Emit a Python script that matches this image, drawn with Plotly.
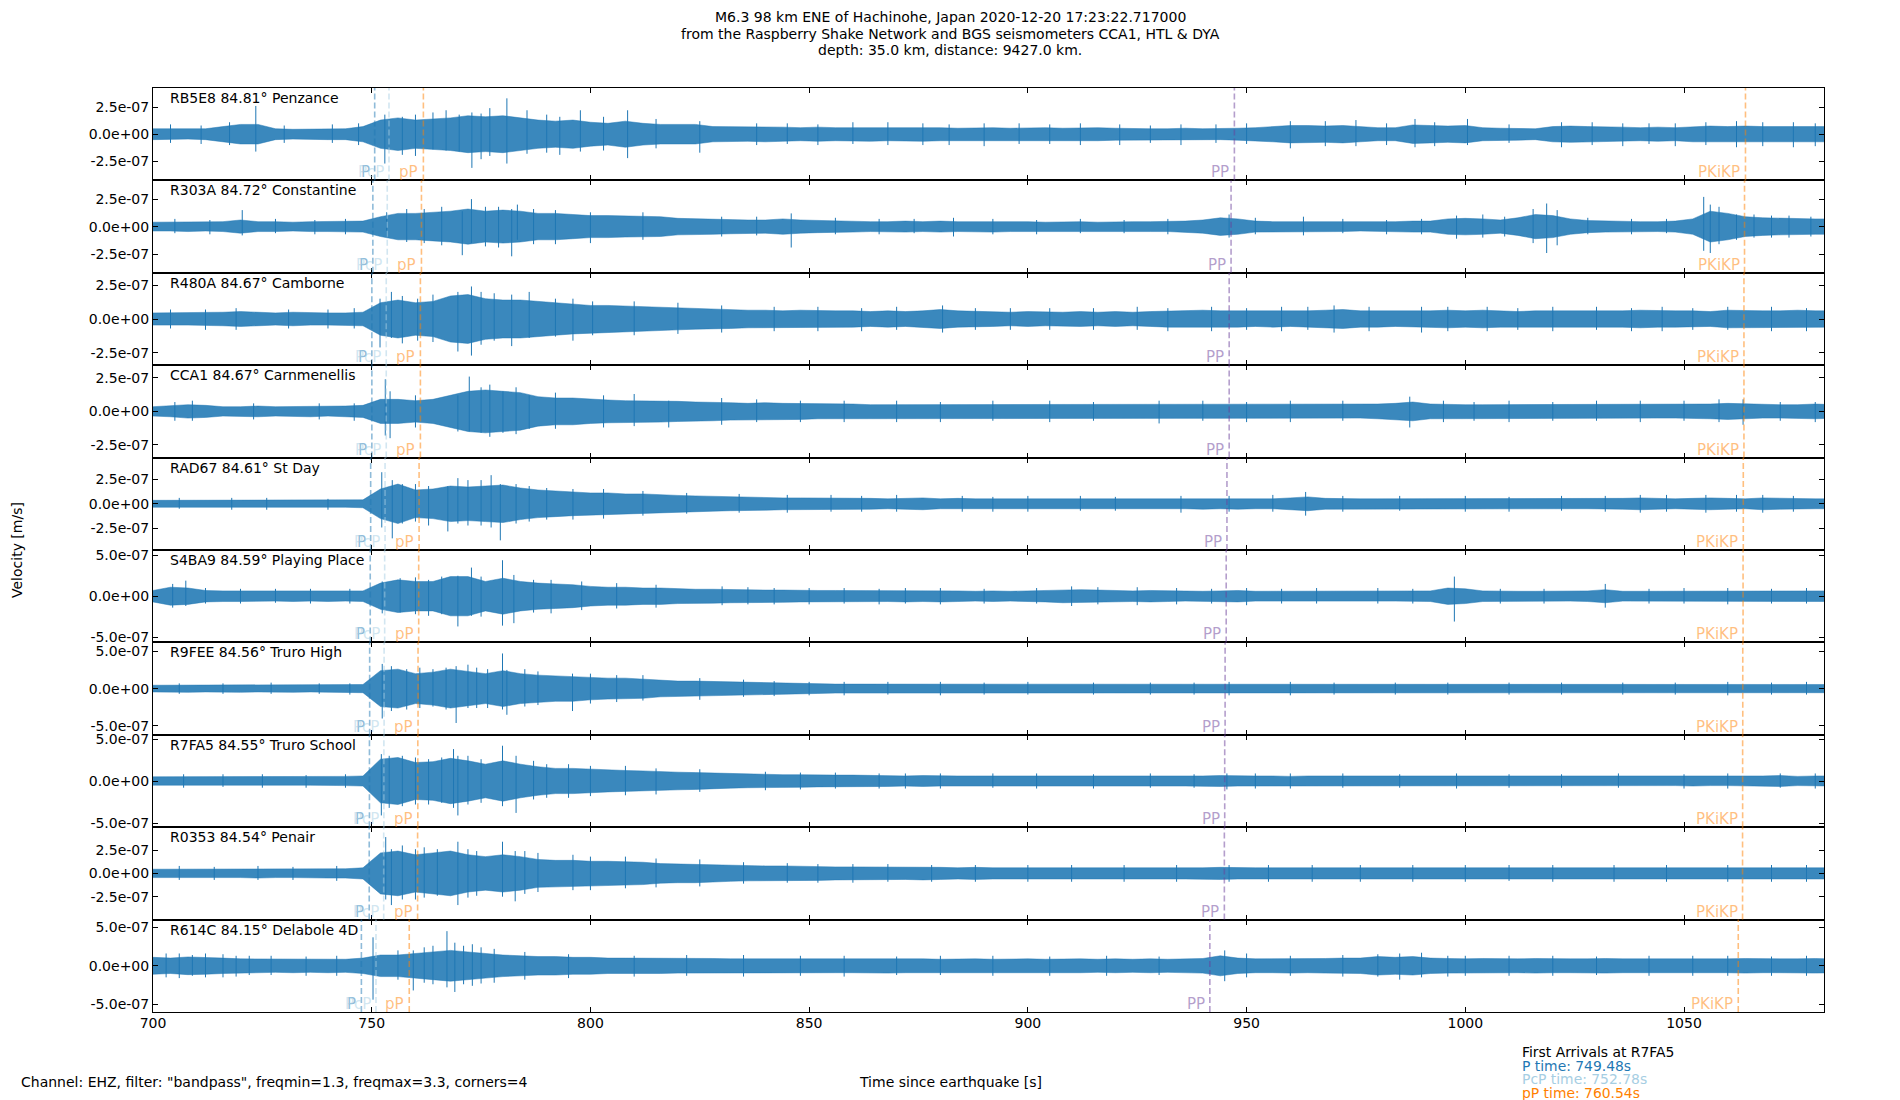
import plotly.graph_objects as go
from plotly.subplots import make_subplots

# Station metadata (top panel to bottom panel)
stations = ["RB5E8", "R303A", "R480A", "CCA1", "RAD67", "S4BA9", "R9FEE", "R7FA5", "R0353", "R614C"]
distances = [84.81, 84.72, 84.67, 84.67, 84.61, 84.59, 84.56, 84.55, 84.54, 84.15]
places = ["Penzance", "Constantine", "Camborne", "Carnmenellis", "St Day", "Playing Place",
          "Truro High", "Truro School", "Penair", "Delabole 4D"]

# y-axis half range and tick step per panel, units of 1e-7 m/s
y_half = [4.25, 4.2, 3.41, 3.45, 4.68, 5.65, 6.18, 5.5, 4.96, 6.0]
y_step = [2.5, 2.5, 2.5, 2.5, 2.5, 5.0, 5.0, 5.0, 2.5, 5.0]

# phase arrival times [s] per station
p_times = [750.68, 750.26, 750.03, 750.03, 749.76, 749.66, 749.53, 749.48, 749.43, 747.64]
pcp_times = [753.95, 753.55, 753.32, 753.32, 753.05, 752.96, 752.83, 752.78, 752.74, 750.98]
pp_depth_times = [761.81, 761.37, 761.13, 761.13, 760.83, 760.74, 760.59, 760.54, 760.49, 758.58]
pp_times = [947.21, 946.45, 946.02, 946.02, 945.51, 945.34, 945.09, 945.0, 944.92, 941.6]
pkikp_times = [1064.05, 1063.83, 1063.7, 1063.7, 1063.55, 1063.5, 1063.43, 1063.4, 1063.38, 1062.4]

# envelope sample times [s] (every 4 s)
env_times = list(range(700, 1085, 4))

# waveform envelope (half amplitude, 1e-7 m/s)
amp_rb5e8 = [0.5, 0.5, 0.45, 0.5, 0.7, 0.9, 0.9, 0.5, 0.45, 0.45,
             0.5, 0.5, 0.7, 1.3, 1.5, 1.3, 1.4, 1.5, 1.7, 1.6,
             1.7, 1.5, 1.3, 1.2, 1.3, 1.1, 1.0, 1.2, 1.0, 0.9,
             0.9, 0.9, 0.7, 0.7, 0.65, 0.7, 0.65, 0.6, 0.65, 0.6,
             0.6, 0.65, 0.6, 0.6, 0.65, 0.6, 0.55, 0.6, 0.6, 0.55,
             0.6, 0.6, 0.55, 0.6, 0.6, 0.55, 0.5, 0.5, 0.5, 0.55,
             0.5, 0.5, 0.55, 0.6, 0.7, 0.8, 0.8, 0.75, 0.8, 0.7,
             0.6, 0.6, 0.85, 0.8, 0.75, 0.8, 0.6, 0.55, 0.55, 0.5,
             0.7, 0.75, 0.7, 0.7, 0.65, 0.6, 0.65, 0.6, 0.7, 0.75,
             0.7, 0.75, 0.7, 0.7, 0.75, 0.7, 0.7]
amp_r303a = [0.4, 0.4, 0.45, 0.4, 0.45, 0.6, 0.45, 0.45, 0.4, 0.45,
             0.45, 0.45, 0.5, 0.9, 1.2, 1.2, 1.3, 1.4, 1.6, 1.4,
             1.5, 1.4, 1.2, 1.2, 1.1, 1.0, 1.0, 0.95, 0.9, 0.9,
             0.75, 0.7, 0.7, 0.65, 0.6, 0.6, 0.7, 0.6, 0.55, 0.5,
             0.5, 0.45, 0.45, 0.5, 0.45, 0.5, 0.45, 0.45, 0.5, 0.45,
             0.45, 0.4, 0.45, 0.45, 0.4, 0.45, 0.45, 0.45, 0.45, 0.5,
             0.6, 0.8, 0.7, 0.5, 0.45, 0.45, 0.45, 0.45, 0.45, 0.4,
             0.45, 0.45, 0.5, 0.5, 0.7, 0.75, 0.7, 0.6, 0.8, 1.1,
             1.0, 0.7, 0.55, 0.5, 0.5, 0.45, 0.45, 0.5, 0.7, 1.4,
             1.2, 0.9, 0.8, 0.75, 0.7, 0.7, 0.7]
amp_r480a = [0.45, 0.45, 0.45, 0.45, 0.5, 0.55, 0.5, 0.45, 0.5, 0.45,
             0.45, 0.45, 0.5, 1.2, 1.4, 1.2, 1.3, 1.7, 1.8, 1.5,
             1.4, 1.4, 1.3, 1.2, 1.1, 1.0, 1.0, 0.95, 0.9, 0.85,
             0.8, 0.75, 0.7, 0.7, 0.65, 0.65, 0.6, 0.65, 0.6, 0.6,
             0.6, 0.55, 0.6, 0.55, 0.6, 0.7, 0.6, 0.55, 0.55, 0.5,
             0.55, 0.5, 0.5, 0.55, 0.5, 0.55, 0.5, 0.55, 0.6, 0.6,
             0.65, 0.6, 0.6, 0.55, 0.6, 0.55, 0.6, 0.65, 0.7, 0.6,
             0.6, 0.55, 0.6, 0.6, 0.65, 0.6, 0.65, 0.6, 0.55, 0.6,
             0.6, 0.55, 0.6, 0.6, 0.6, 0.65, 0.6, 0.6, 0.6, 0.55,
             0.65, 0.6, 0.6, 0.6, 0.65, 0.6, 0.6]
amp_cca1 = [0.35, 0.4, 0.5, 0.45, 0.35, 0.35, 0.4, 0.35, 0.35, 0.4,
            0.35, 0.4, 0.45, 0.9, 0.9, 0.8, 0.9, 1.2, 1.5, 1.6,
            1.5, 1.4, 1.1, 1.0, 1.0, 0.9, 0.85, 0.8, 0.8, 0.8,
            0.75, 0.7, 0.7, 0.65, 0.6, 0.65, 0.6, 0.6, 0.55, 0.55,
            0.55, 0.5, 0.5, 0.55, 0.5, 0.55, 0.5, 0.5, 0.5, 0.5,
            0.55, 0.5, 0.5, 0.5, 0.5, 0.55, 0.5, 0.5, 0.55, 0.5,
            0.55, 0.5, 0.5, 0.5, 0.5, 0.5, 0.55, 0.5, 0.5, 0.5,
            0.55, 0.6, 0.7, 0.55, 0.5, 0.5, 0.5, 0.5, 0.5, 0.5,
            0.5, 0.5, 0.5, 0.5, 0.5, 0.5, 0.5, 0.5, 0.5, 0.55,
            0.6, 0.55, 0.5, 0.5, 0.5, 0.55, 0.5]
amp_rad67 = [0.35, 0.35, 0.35, 0.35, 0.35, 0.35, 0.4, 0.35, 0.35, 0.35,
             0.35, 0.35, 0.4, 1.5, 2.0, 1.4, 1.5, 1.8, 1.7, 1.8,
             1.9, 1.6, 1.4, 1.3, 1.2, 1.1, 1.1, 1.0, 1.0, 0.9,
             0.85, 0.8, 0.75, 0.7, 0.65, 0.65, 0.6, 0.6, 0.6, 0.6,
             0.55, 0.55, 0.5, 0.55, 0.6, 0.5, 0.55, 0.5, 0.5, 0.55,
             0.5, 0.5, 0.5, 0.5, 0.55, 0.5, 0.5, 0.5, 0.5, 0.5,
             0.55, 0.5, 0.55, 0.5, 0.5, 0.6, 0.7, 0.55, 0.5, 0.5,
             0.5, 0.5, 0.5, 0.5, 0.55, 0.5, 0.5, 0.5, 0.5, 0.5,
             0.5, 0.5, 0.5, 0.5, 0.55, 0.6, 0.55, 0.5, 0.55, 0.6,
             0.55, 0.5, 0.6, 0.55, 0.5, 0.5, 0.5]
amp_s4ba9 = [0.7, 1.1, 1.0, 0.7, 0.65, 0.65, 0.65, 0.6, 0.65, 0.6,
             0.65, 0.6, 0.65, 1.6, 2.0, 1.8, 1.8, 2.4, 2.4, 1.8,
             2.2, 1.8, 1.6, 1.5, 1.4, 1.2, 1.1, 1.1, 1.0, 1.0,
             0.9, 0.85, 0.85, 0.8, 0.8, 0.75, 0.75, 0.7, 0.7, 0.7,
             0.7, 0.65, 0.65, 0.7, 0.65, 0.7, 0.65, 0.6, 0.65, 0.6,
             0.65, 0.7, 0.8, 0.8, 0.75, 0.7, 0.65, 0.7, 0.65, 0.6,
             0.6, 0.65, 0.7, 0.6, 0.6, 0.6, 0.6, 0.65, 0.6, 0.6,
             0.6, 0.6, 0.6, 0.65, 1.0, 0.9, 0.65, 0.6, 0.6, 0.6,
             0.6, 0.6, 0.65, 0.8, 0.6, 0.6, 0.6, 0.6, 0.6, 0.6,
             0.6, 0.65, 0.6, 0.6, 0.65, 0.65, 0.65]
amp_r9fee = [0.45, 0.45, 0.5, 0.45, 0.45, 0.5, 0.45, 0.45, 0.5, 0.45,
             0.45, 0.5, 0.55, 2.4, 2.6, 2.0, 2.2, 2.6, 2.3, 2.0,
             2.4, 2.0, 1.8, 1.7, 1.7, 1.5, 1.4, 1.4, 1.3, 1.1,
             1.0, 1.0, 0.95, 0.85, 0.8, 0.75, 0.7, 0.7, 0.65, 0.6,
             0.6, 0.6, 0.55, 0.55, 0.6, 0.55, 0.55, 0.55, 0.6, 0.55,
             0.55, 0.55, 0.6, 0.55, 0.55, 0.55, 0.5, 0.55, 0.55, 0.55,
             0.55, 0.6, 0.55, 0.55, 0.5, 0.55, 0.55, 0.5, 0.55, 0.55,
             0.55, 0.5, 0.55, 0.55, 0.5, 0.55, 0.5, 0.5, 0.55, 0.5,
             0.5, 0.55, 0.5, 0.55, 0.5, 0.5, 0.55, 0.5, 0.5, 0.55,
             0.5, 0.55, 0.6, 0.55, 0.5, 0.55, 0.55]
amp_r7fa5 = [0.5, 0.5, 0.5, 0.5, 0.55, 0.5, 0.5, 0.5, 0.5, 0.5,
             0.5, 0.55, 0.6, 2.6, 2.8, 2.2, 2.3, 2.7, 2.4, 2.0,
             2.4, 2.0, 1.7, 1.5, 1.5, 1.4, 1.3, 1.25, 1.2, 1.1,
             1.05, 1.0, 0.95, 0.85, 0.8, 0.8, 0.75, 0.75, 0.7, 0.7,
             0.7, 0.65, 0.65, 0.6, 0.65, 0.6, 0.6, 0.6, 0.6, 0.6,
             0.6, 0.6, 0.55, 0.6, 0.6, 0.6, 0.55, 0.6, 0.6, 0.6,
             0.6, 0.65, 0.6, 0.6, 0.6, 0.55, 0.6, 0.6, 0.6, 0.55,
             0.55, 0.6, 0.6, 0.55, 0.6, 0.55, 0.55, 0.6, 0.55, 0.55,
             0.55, 0.6, 0.55, 0.55, 0.6, 0.55, 0.55, 0.55, 0.6, 0.55,
             0.55, 0.6, 0.6, 0.65, 0.55, 0.6, 0.6]
amp_r0353 = [0.45, 0.45, 0.5, 0.45, 0.45, 0.45, 0.5, 0.45, 0.45, 0.45,
             0.5, 0.5, 0.6, 2.2, 2.4, 2.0, 2.2, 2.4, 2.0, 1.8,
             2.0, 1.8, 1.5, 1.4, 1.4, 1.3, 1.3, 1.25, 1.2, 1.05,
             1.0, 1.0, 0.95, 0.85, 0.8, 0.8, 0.8, 0.75, 0.75, 0.7,
             0.7, 0.7, 0.65, 0.65, 0.7, 0.65, 0.6, 0.65, 0.6, 0.6,
             0.6, 0.6, 0.6, 0.6, 0.55, 0.6, 0.6, 0.6, 0.6, 0.6,
             0.6, 0.65, 0.6, 0.6, 0.6, 0.6, 0.6, 0.6, 0.55, 0.6,
             0.6, 0.6, 0.55, 0.6, 0.6, 0.6, 0.6, 0.55, 0.6, 0.6,
             0.6, 0.6, 0.6, 0.55, 0.6, 0.6, 0.6, 0.6, 0.6, 0.6,
             0.6, 0.6, 0.6, 0.6, 0.55, 0.6, 0.6]
amp_r614c = [1.1, 1.0, 1.15, 1.1, 1.0, 0.9, 0.9, 0.85, 0.9, 0.85,
             0.9, 0.85, 1.0, 1.4, 1.4, 1.6, 1.8, 2.0, 1.8, 1.6,
             1.4, 1.3, 1.2, 1.2, 1.1, 1.1, 1.0, 1.0, 1.0, 1.0,
             0.95, 0.95, 0.95, 0.9, 0.9, 0.95, 0.95, 0.9, 0.9, 0.9,
             0.9, 0.9, 0.95, 0.9, 0.9, 0.85, 0.9, 0.9, 0.85, 0.9,
             0.9, 0.85, 0.9, 0.9, 0.85, 0.9, 0.85, 0.9, 0.85, 0.9,
             0.95, 1.3, 1.0, 0.9, 0.9, 0.95, 0.9, 0.95, 1.0, 1.0,
             1.2, 1.1, 1.2, 1.0, 0.95, 0.9, 0.95, 0.9, 0.9, 0.95,
             0.9, 0.9, 0.9, 0.95, 0.9, 0.9, 0.9, 0.85, 0.9, 0.9,
             0.9, 0.95, 0.9, 0.9, 0.9, 0.95, 0.9]

# individual swings poking out of the band (time [s], max, min in 1e-7 m/s)
peaks_rb5e8 = [(704.0, 0.9, -0.8), (711.0, 0.8, -0.9), (717.5, 1.1, -1.0), (723.5, 2.6, -1.6),
               (730.0, 0.8, -0.8), (741.0, 0.9, -0.8), (747.0, 1.0, -1.0),
               (753.0, 1.8, -2.7), (757.0, 1.6, -1.9), (760.0, 1.8, -2.0),
               (764.0, 2.0, -1.4), (767.0, 2.2, -1.5), (770.0, 1.8, -1.6), (772.9, 2.0, -3.1),
               (775.0, 1.9, -2.3), (777.0, 2.4, -2.0), (780.9, 3.3, -2.7), (785.5, 2.2, -1.8),
               (790.0, 1.8, -1.7), (793.0, 1.6, -1.9), (797.7, 2.2, -1.6), (803.0, 1.6, -1.5),
               (808.5, 2.2, -2.2), (815.0, 1.4, -1.3), (825.0, 1.2, -1.7), (838.0, 1.0, -1.0),
               (845.0, 1.0, -0.9), (852.0, 0.9, -1.0), (860.0, 1.1, -0.9), (868.0, 1.1, -1.0),
               (876.0, 1.0, -1.0), (882.0, 0.9, -1.0), (890.0, 1.0, -1.1), (898.0, 1.0, -0.9),
               (905.0, 0.9, -0.9), (912.0, 1.0, -1.0), (921.0, 0.9, -1.0), (928.0, 0.8, -0.8),
               (935.0, 0.9, -1.0), (943.0, 0.9, -0.8), (950.0, 1.0, -0.9),
               (960.0, 1.2, -1.3), (968.0, 1.2, -1.1), (975.0, 1.3, -1.1), (982.0, 1.0, -1.0),
               (988.5, 1.4, -1.2), (993.0, 1.1, -1.1), (1000.5, 1.4, -1.0), (1010.0, 0.9, -0.8),
               (1022.0, 1.1, -1.2), (1029.0, 1.1, -1.0), (1036.0, 1.0, -1.1), (1042.0, 1.0, -0.9),
               (1048.0, 1.0, -1.1), (1055.0, 1.1, -1.0), (1062.0, 1.2, -1.2), (1068.0, 1.1, -1.1),
               (1075.0, 1.1, -1.2), (1080.0, 1.0, -1.1)]
peaks_r303a = [(705.0, 0.7, -0.6), (713.0, 0.6, -0.7), (720.4, 1.5, -0.8), (728.0, 0.7, -0.6),
               (737.0, 0.6, -0.7), (744.0, 0.7, -0.7),
               (753.4, 1.3, -0.9), (758.0, 1.6, -1.4), (762.0, 1.6, -1.5),
               (766.0, 1.8, -1.7), (770.7, 1.4, -2.6), (772.8, 2.5, -1.5), (776.0, 1.8, -1.8),
               (779.0, 1.8, -1.9), (782.0, 1.6, -2.7), (783.3, 2.0, -1.2), (787.0, 1.6, -1.6),
               (792.0, 1.5, -1.6), (800.0, 1.3, -1.5), (812.0, 1.3, -1.2), (830.0, 0.9, -0.9),
               (838.0, 0.9, -0.8), (845.9, 1.2, -1.9), (856.0, 0.8, -0.7), (866.0, 0.7, -0.7),
               (874.0, 0.7, -0.6), (883.0, 0.8, -0.9), (892.0, 0.7, -0.7), (902.0, 0.6, -0.7),
               (912.0, 0.7, -0.6), (922.0, 0.6, -0.6), (932.0, 0.7, -0.7),
               (946.0, 1.1, -1.0), (952.0, 0.8, -0.7), (963.0, 0.9, -0.8), (972.0, 0.7, -0.6),
               (982.0, 0.6, -0.7), (990.0, 0.7, -0.7), (998.0, 1.0, -1.1),
               (1004.0, 1.1, -1.0), (1009.0, 0.9, -0.9), (1015.5, 1.6, -1.5), (1018.6, 2.1, -2.4),
               (1021.0, 1.5, -1.7), (1028.0, 0.8, -0.7), (1038.0, 0.7, -0.7), (1046.0, 0.7, -0.6),
               (1054.5, 2.7, -2.2), (1056.0, 2.0, -2.4), (1058.0, 1.8, -1.6), (1062.0, 1.1, -1.2),
               (1066.0, 1.1, -1.0), (1070.0, 1.0, -1.0), (1074.0, 1.0, -1.0), (1079.0, 0.9, -0.9)]
peaks_r480a = [(704.0, 0.7, -0.7), (712.0, 0.7, -0.8), (719.0, 0.8, -0.8), (731.0, 0.7, -0.7),
               (740.0, 0.7, -0.7), (746.0, 0.8, -0.7),
               (751.9, 1.5, -2.1), (754.5, 2.0, -1.4), (757.0, 1.7, -1.8), (760.5, 1.5, -1.6),
               (764.0, 1.8, -1.7), (769.7, 2.0, -2.4), (772.8, 2.4, -2.7), (775.0, 2.0, -1.9),
               (778.0, 1.9, -1.6), (782.0, 1.8, -2.0), (786.0, 2.0, -1.4), (792.0, 1.5, -1.3),
               (796.0, 1.5, -1.6), (800.5, 1.3, -1.2), (810.0, 1.3, -1.2), (820.0, 1.2, -1.1),
               (830.0, 1.0, -1.0), (842.0, 0.9, -0.9), (852.0, 0.9, -0.9), (862.0, 0.8, -0.9),
               (870.0, 0.9, -0.8), (880.5, 1.0, -1.0), (888.0, 0.8, -0.8), (896.0, 0.8, -0.8),
               (905.0, 0.8, -0.8), (915.0, 0.8, -0.8), (925.0, 0.9, -0.8), (932.0, 0.8, -0.9),
               (942.0, 0.9, -0.9), (950.0, 0.8, -0.8), (958.0, 0.9, -0.9), (964.0, 0.9, -0.8),
               (970.0, 1.0, -1.0), (978.0, 0.9, -0.9), (990.0, 0.9, -1.0), (996.0, 0.9, -0.9),
               (1005.0, 0.9, -0.9), (1012.0, 0.8, -0.8), (1020.0, 0.9, -0.9), (1030.0, 0.9, -0.8),
               (1038.0, 0.8, -0.9), (1045.0, 0.9, -0.9), (1052.0, 0.8, -0.8), (1060.0, 0.9, -0.8),
               (1070.0, 0.9, -0.9), (1078.0, 0.8, -0.9)]
peaks_cca1 = [(705.0, 0.7, -0.7), (709.0, 0.8, -0.7), (723.0, 0.6, -0.6), (738.0, 0.6, -0.6),
              (746.0, 0.6, -0.7),
              (753.1, 2.4, -1.8), (754.2, 1.5, -2.0), (760.0, 1.2, -1.2), (769.7, 1.2, -1.5),
              (772.3, 2.6, -1.5), (775.0, 1.8, -1.6), (777.0, 2.0, -1.9), (780.0, 1.5, -1.6),
              (783.0, 1.8, -1.7), (786.0, 1.2, -1.3), (792.0, 1.4, -1.3), (803.0, 1.2, -1.2),
              (810.0, 1.3, -1.1), (817.9, 0.8, -1.2), (830.0, 1.0, -1.0), (838.0, 0.9, -0.8),
              (848.0, 0.8, -0.8), (858.0, 0.8, -0.8), (870.0, 0.8, -0.8), (880.0, 0.7, -0.8),
              (892.0, 0.8, -0.7), (905.0, 0.8, -0.8), (915.0, 0.7, -0.7), (930.0, 0.8, -0.9),
              (940.0, 0.8, -0.7), (950.0, 0.7, -0.8), (960.0, 0.8, -0.8), (972.0, 0.8, -0.7),
              (987.3, 1.1, -1.2), (995.0, 0.8, -0.8), (1002.0, 0.7, -0.7), (1010.0, 0.8, -0.8),
              (1020.0, 0.7, -0.7), (1030.0, 0.8, -0.7), (1040.0, 0.8, -0.8), (1050.0, 0.8, -0.7),
              (1058.0, 0.9, -0.8), (1063.5, 0.9, -1.0), (1072.0, 0.7, -0.7), (1080.0, 0.7, -0.8)]
peaks_rad67 = [(706.0, 0.6, -0.5), (718.0, 0.6, -0.6), (726.0, 0.6, -0.6), (740.0, 0.5, -0.6),
               (752.3, 3.2, -2.4), (754.7, 2.4, -3.5), (757.0, 2.0, -2.0), (760.0, 2.0, -1.8),
               (763.0, 1.8, -2.2), (767.4, 1.8, -2.8), (769.7, 2.6, -2.0), (772.0, 2.4, -2.2),
               (775.0, 2.4, -2.2), (777.3, 2.9, -2.4), (779.4, 2.0, -3.7), (783.0, 2.0, -2.0),
               (786.0, 1.8, -1.8), (790.0, 1.6, -1.6), (796.0, 1.5, -1.6), (803.0, 1.5, -1.5),
               (812.0, 1.3, -1.2), (822.0, 1.1, -1.0), (834.0, 1.0, -0.9), (845.0, 0.9, -0.9),
               (855.0, 0.9, -0.8), (862.0, 0.8, -0.8), (870.0, 0.9, -0.8), (885.0, 0.8, -0.8),
               (892.0, 0.7, -0.8), (900.0, 0.8, -0.8), (912.0, 0.8, -0.7), (920.0, 0.7, -0.7),
               (935.0, 0.8, -0.9), (946.0, 0.8, -0.8), (956.0, 0.9, -0.8), (963.5, 1.2, -1.2),
               (972.0, 0.8, -0.8), (985.0, 0.8, -0.7), (1000.0, 0.8, -0.8), (1010.0, 0.7, -0.8),
               (1022.0, 0.8, -0.7), (1032.0, 0.8, -0.8), (1040.0, 0.9, -0.9), (1046.0, 0.9, -0.8),
               (1055.0, 0.9, -0.9), (1062.0, 0.9, -0.8), (1068.0, 0.9, -0.9), (1075.0, 0.8, -0.8)]
peaks_s4ba9 = [(704.5, 1.5, -1.4), (707.5, 1.9, -1.2), (712.0, 1.0, -0.9), (720.0, 0.9, -0.9),
               (728.0, 0.9, -0.8), (736.0, 0.9, -0.9), (745.0, 0.9, -0.9),
               (752.4, 1.8, -2.1), (756.5, 2.2, -2.0),
               (760.0, 2.3, -2.2), (763.0, 2.0, -2.4), (766.0, 2.4, -2.2), (769.7, 2.5, -3.7),
               (772.8, 3.5, -2.4), (775.0, 2.4, -2.5), (779.9, 4.4, -3.6), (782.5, 2.6, -3.3),
               (787.0, 2.0, -2.0), (791.0, 2.0, -2.1), (798.0, 1.8, -1.7), (806.0, 1.6, -1.5),
               (815.0, 1.4, -1.4), (830.1, 1.2, -1.1), (836.0, 1.1, -1.0), (842.0, 1.0, -1.0),
               (850.0, 1.0, -1.0), (858.0, 1.0, -0.9), (866.0, 0.9, -1.0), (872.0, 1.0, -0.9),
               (880.0, 1.0, -1.0), (890.0, 0.9, -0.9), (902.0, 1.0, -0.9), (910.0, 1.2, -1.2),
               (916.0, 1.1, -1.0), (925.0, 1.1, -1.1), (934.0, 1.0, -1.0), (942.0, 0.9, -0.9),
               (950.0, 1.0, -1.1), (958.0, 0.9, -0.9), (966.0, 1.0, -0.9), (980.0, 1.0, -0.9),
               (988.0, 0.9, -0.9), (997.5, 2.4, -3.1), (1008.0, 0.9, -0.9), (1018.0, 0.9, -0.9),
               (1032.0, 1.5, -1.4), (1042.0, 0.9, -0.9), (1050.0, 1.0, -0.9), (1060.0, 1.0, -1.0),
               (1070.0, 0.9, -0.9), (1078.0, 1.0, -0.9)]
peaks_r9fee = [(706.0, 0.7, -0.7), (716.0, 0.7, -0.7), (727.0, 0.8, -0.7), (738.0, 0.7, -0.7),
               (745.0, 0.7, -0.8),
               (752.4, 3.3, -4.0), (754.5, 3.0, -3.0), (758.0, 2.6, -2.8), (761.0, 2.8, -2.6),
               (764.0, 2.6, -2.4), (767.0, 2.8, -2.8), (769.3, 3.0, -4.6), (772.0, 3.2, -2.6),
               (774.0, 2.8, -2.6), (776.5, 2.6, -2.6), (779.9, 4.7, -2.8), (780.9, 2.5, -3.5),
               (785.0, 2.6, -2.4), (788.0, 2.3, -2.2), (795.9, 2.0, -3.0), (800.0, 2.0, -2.0),
               (806.0, 1.8, -1.8), (812.0, 1.8, -1.6), (825.0, 1.4, -1.5), (835.0, 1.2, -1.1),
               (842.0, 1.0, -1.0), (850.0, 0.9, -0.9), (858.0, 0.9, -0.9), (868.0, 0.9, -0.8),
               (880.0, 0.9, -0.9), (890.0, 0.8, -0.8), (900.0, 0.9, -0.8), (915.0, 0.8, -0.8),
               (928.0, 0.8, -0.8), (938.0, 0.8, -0.8), (946.0, 0.9, -0.9), (960.0, 0.9, -0.9),
               (970.0, 0.8, -0.8), (984.0, 0.8, -0.8), (996.0, 0.8, -0.8), (1010.0, 0.8, -0.8),
               (1022.0, 0.8, -0.8), (1036.0, 0.8, -0.8), (1048.0, 0.8, -0.8), (1060.0, 0.9, -0.9),
               (1070.0, 0.8, -0.8), (1078.0, 0.9, -0.8)]
peaks_r7fa5 = [(707.0, 0.8, -0.8), (716.0, 0.8, -0.7), (725.0, 0.8, -0.8), (735.0, 0.7, -0.8),
               (744.0, 0.8, -0.8),
               (752.2, 3.2, -4.1), (754.0, 3.0, -3.2), (757.0, 3.0, -3.0), (760.0, 2.8, -2.8),
               (763.0, 2.6, -2.8), (766.0, 2.8, -2.6), (768.7, 3.8, -3.2), (769.7, 3.0, -4.1),
               (772.0, 3.0, -2.8), (775.0, 2.6, -2.6), (779.9, 4.2, -3.0), (783.0, 3.0, -3.8),
               (787.0, 2.4, -2.2), (790.0, 2.0, -2.0), (795.0, 2.0, -2.0), (800.0, 1.8, -1.8),
               (808.0, 1.8, -1.7), (815.0, 1.5, -1.6), (825.0, 1.4, -1.3), (840.0, 1.1, -1.1),
               (848.0, 1.0, -1.0), (856.0, 1.0, -0.9), (866.0, 0.9, -0.9), (872.0, 0.9, -0.9),
               (880.0, 0.9, -0.9), (892.0, 0.9, -0.8), (902.0, 0.9, -0.9), (915.0, 0.8, -0.9),
               (928.0, 0.9, -0.8), (938.0, 0.8, -0.8), (945.5, 0.9, -1.0), (952.0, 0.9, -0.9),
               (960.0, 0.9, -0.9), (972.0, 0.9, -0.8), (985.0, 0.8, -0.8), (998.0, 0.9, -0.9),
               (1010.0, 0.8, -0.8), (1022.0, 0.8, -0.8), (1035.0, 0.9, -0.8), (1050.0, 0.8, -0.9),
               (1060.0, 0.9, -0.9), (1072.0, 0.9, -0.8), (1080.0, 0.9, -0.9)]
peaks_r0353 = [(706.0, 0.8, -0.7), (714.0, 0.7, -0.7), (724.0, 0.8, -0.7), (732.0, 0.7, -0.7),
               (742.0, 0.8, -0.8),
               (753.2, 3.9, -2.8), (754.5, 2.6, -3.4), (757.0, 3.0, -2.8), (760.0, 2.6, -2.8),
               (762.0, 2.8, -2.6), (765.0, 2.6, -2.4), (769.7, 3.4, -3.4), (772.0, 2.6, -2.6),
               (774.0, 2.4, -2.4), (779.9, 3.4, -2.5), (782.8, 2.4, -3.0), (785.0, 2.4, -2.2),
               (788.0, 2.2, -2.0), (796.0, 2.0, -1.8), (800.0, 1.8, -1.8), (808.0, 1.8, -1.6),
               (815.0, 1.6, -1.5), (825.0, 1.5, -1.4), (835.0, 1.2, -1.1), (845.0, 1.1, -1.0),
               (852.0, 1.0, -1.0), (860.0, 1.0, -1.0), (868.0, 1.0, -0.9), (878.0, 0.9, -0.9),
               (888.0, 0.9, -0.9), (900.0, 0.9, -0.9), (910.0, 0.9, -0.9), (922.0, 0.9, -0.9),
               (934.0, 0.9, -0.9), (946.0, 0.9, -0.9), (955.0, 0.9, -0.9), (965.0, 0.9, -0.9),
               (976.0, 0.9, -0.9), (988.0, 0.9, -0.9), (1000.0, 0.9, -0.9), (1010.0, 0.9, -0.8),
               (1020.0, 0.9, -0.9), (1034.0, 0.9, -0.9), (1046.0, 0.9, -0.9), (1060.0, 0.9, -0.9),
               (1070.0, 0.9, -0.9), (1078.0, 0.9, -0.9)]
peaks_r614c = [(703.0, 1.6, -1.5), (706.0, 1.6, -1.6), (709.0, 1.4, -1.3), (712.0, 1.6, -1.5),
               (716.0, 1.5, -1.5), (719.0, 1.3, -1.4), (722.0, 1.3, -1.2), (727.0, 1.3, -1.2),
               (735.0, 1.2, -1.3), (742.0, 1.3, -1.3), (750.3, 3.7, -4.4), (756.0, 2.0, -1.8),
               (759.5, 2.0, -3.2), (762.0, 2.4, -2.2), (764.0, 2.6, -2.4), (767.2, 4.5, -2.8),
               (769.0, 3.0, -3.4), (771.0, 2.6, -2.4), (773.0, 2.8, -2.6), (775.0, 2.4, -2.3),
               (778.0, 2.2, -2.2), (785.0, 1.8, -1.8), (795.0, 1.5, -1.6), (810.0, 1.3, -1.4),
               (822.0, 1.4, -1.3), (835.0, 1.4, -1.4), (848.0, 1.3, -1.3), (858.0, 1.3, -1.4),
               (870.0, 1.2, -1.2), (880.0, 1.3, -1.2), (892.0, 1.3, -1.3), (905.0, 1.2, -1.3),
               (918.0, 1.3, -1.3), (930.0, 1.2, -1.2), (945.0, 2.0, -2.0), (950.0, 1.6, -1.5),
               (960.0, 1.3, -1.3), (972.0, 1.4, -1.4), (980.0, 1.5, -1.4), (985.0, 1.6, -1.8),
               (990.0, 1.7, -1.5), (996.0, 1.3, -1.4), (1000.0, 1.3, -1.3), (1010.0, 1.3, -1.3),
               (1020.0, 1.3, -1.3), (1030.0, 1.2, -1.2), (1042.0, 1.3, -1.3), (1052.0, 1.3, -1.3),
               (1060.0, 1.3, -1.3), (1070.0, 1.2, -1.3), (1078.0, 1.3, -1.3)]

amps = [amp_rb5e8, amp_r303a, amp_r480a, amp_cca1, amp_rad67,
        amp_s4ba9, amp_r9fee, amp_r7fa5, amp_r0353, amp_r614c]
peaks = [peaks_rb5e8, peaks_r303a, peaks_r480a, peaks_cca1, peaks_rad67,
         peaks_s4ba9, peaks_r9fee, peaks_r7fa5, peaks_r0353, peaks_r614c]

# phase name -> (times, colour of marker line and label)
phases = [
    ("P", p_times, "rgba(31,120,180,0.5)"),
    ("PcP", pcp_times, "rgba(166,206,227,0.5)"),
    ("pP", pp_depth_times, "rgba(255,127,0,0.5)"),
    ("PP", pp_times, "rgba(106,61,154,0.5)"),
    ("PKiKP", pkikp_times, "rgba(255,127,0,0.5)"),
]

TRACE = "#1f77b4"
FONT = "DejaVu Sans"
W, H = 1900, 1100
L, R, T, B = 153, 76, 88, 88


def px(x):
    return (x - L) / (W - L - R)


def py(y):
    return (H - B - y) / (H - T - B)


n = len(stations)
fig = make_subplots(rows=n, cols=1, shared_xaxes=True, vertical_spacing=0)

for i in range(n):
    row = i + 1
    sfx = "" if row == 1 else str(row)
    # envelope band
    bx = env_times + env_times[::-1]
    by = [a * 1e-7 for a in amps[i]] + [-a * 1e-7 for a in amps[i][::-1]]
    fig.add_trace(go.Scatter(x=bx, y=by, mode="lines", fill="toself",
                             fillcolor="rgba(31,119,180,0.88)",
                             line=dict(color="rgba(31,119,180,0.8)", width=0.6),
                             hoverinfo="skip", showlegend=False), row=row, col=1)
    # swings sticking out of the band
    sx, sy = [], []
    for t, hi, lo in peaks[i]:
        sx += [t, t, None]
        sy += [lo * 1e-7, hi * 1e-7, None]
    fig.add_trace(go.Scatter(x=sx, y=sy, mode="lines",
                             line=dict(color=TRACE, width=1.0),
                             hoverinfo="skip", showlegend=False), row=row, col=1)

    # phase markers
    for name, times, col in phases:
        fig.add_shape(type="line", x0=times[i], x1=times[i], xref="x" + sfx,
                      y0=0, y1=1, yref="y" + sfx + " domain",
                      line=dict(color=col, width=1.6, dash="6px,3px"))
        fig.add_annotation(x=times[i], xref="x" + sfx, y=0, yref="y" + sfx + " domain",
                           text=name, showarrow=False, xanchor="right", yanchor="bottom",
                           xshift=-3, yshift=-3, font=dict(family=FONT, size=15, color=col))

    # station label
    fig.add_annotation(x=0.009, xref="x" + sfx + " domain", y=1, yref="y" + sfx + " domain",
                       text=f"{stations[i]} {distances[i]:.2f}\u00b0 {places[i]}",
                       showarrow=False, xanchor="left", yanchor="top",
                       font=dict(family=FONT, size=14, color="black"))

    h = y_half[i]
    s = y_step[i]
    fig.update_yaxes(range=[-h * 1e-7, h * 1e-7],
                     tickvals=[-s * 1e-7, 0, s * 1e-7],
                     ticktext=[f"{-s:.1f}e-07", "0.0e+00", f"{s:.1f}e-07"],
                     row=row, col=1)

fig.update_xaxes(range=[700, 1082], tick0=700, dtick=50, ticks="inside", ticklen=5,
                 tickcolor="black", tickwidth=1, showline=True, linecolor="black",
                 linewidth=1, mirror="ticks", showgrid=False, zeroline=False,
                 ticklabelstandoff=-2,
                 tickfont=dict(family=FONT, size=14, color="black"))
fig.update_yaxes(ticks="inside", ticklen=5, tickcolor="black", tickwidth=1,
                 showline=True, linecolor="black", linewidth=1, mirror="ticks",
                 showgrid=False, zeroline=False,
                 tickfont=dict(family=FONT, size=14, color="black"))

# title, centred on the whole figure
title_lines = ["M6.3 98 km ENE of Hachinohe, Japan 2020-12-20 17:23:22.717000",
               "from the Raspberry Shake Network and BGS seismometers CCA1, HTL & DYA",
               "depth: 35.0 km, distance: 9427.0 km."]
for k, line in enumerate(title_lines):
    fig.add_annotation(x=px(950), xref="paper", y=py(17 + 16.5 * k), yref="paper",
                       text=line, showarrow=False, xanchor="center", yanchor="middle",
                       font=dict(family=FONT, size=14, color="black"))

fig.add_annotation(x=px(950), xref="paper", y=py(1082), yref="paper",
                   text="Time since earthquake [s]", showarrow=False,
                   xanchor="center", yanchor="middle", font=dict(family=FONT, size=14, color="black"))
fig.add_annotation(x=px(17), xref="paper", y=py(550), yref="paper",
                   text="Velocity [m/s]", showarrow=False, textangle=-90,
                   xanchor="center", yanchor="middle", font=dict(family=FONT, size=14, color="black"))
fig.add_annotation(x=px(19), xref="paper", y=py(1082), yref="paper",
                   text='Channel: EHZ, filter: "bandpass", freqmin=1.3, freqmax=3.3, corners=4',
                   showarrow=False, xanchor="left", yanchor="middle",
                   font=dict(family=FONT, size=14, color="black"))

arrivals = [("First Arrivals at R7FA5", "black"),
            (f"P time: {p_times[7]:.2f}s", "#1f78b4"),
            (f"PcP time: {pcp_times[7]:.2f}s", "#a6cee3"),
            (f"pP time: {pp_depth_times[7]:.2f}s", "#ff7f00")]
for k, (txt, col) in enumerate(arrivals):
    fig.add_annotation(x=px(1520), xref="paper", y=py(1052 + 13.5 * k), yref="paper",
                       text=txt, showarrow=False, xanchor="left", yanchor="middle",
                       font=dict(family=FONT, size=13.9, color=col))

fig.update_layout(width=W, height=H, margin=dict(l=L, r=R, t=T, b=B),
                  plot_bgcolor="white", paper_bgcolor="white",
                  font=dict(family=FONT, size=14, color="black"),
                  showlegend=False)

# drop the browser's default page margin so the figure sits at the window corner
fig.write_html("out.html", config={"displayModeBar": False},
               post_script="document.body.style.margin='0px';")
